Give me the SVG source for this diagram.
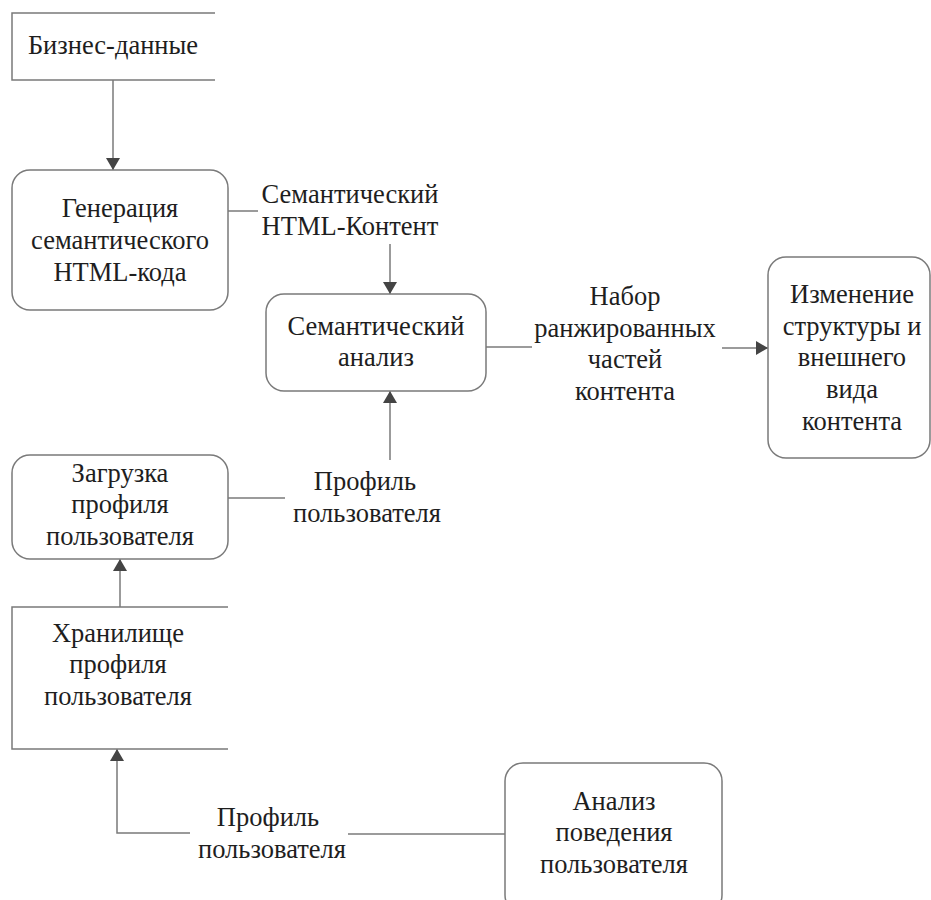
<svg xmlns="http://www.w3.org/2000/svg" width="931" height="900" viewBox="0 0 931 900">
<style>
.box{fill:#fff;stroke:#7a7a7a;stroke-width:1.5}
.ln{fill:none;stroke:#7a7a7a;stroke-width:1.5}
.t{font-family:'Liberation Serif','DejaVu Serif',serif;font-size:26.5px;fill:#1e1e1e;text-anchor:middle}
</style>
<defs>
<marker id="ah" viewBox="0 0 12 16" refX="12" refY="8" markerWidth="12" markerHeight="16" markerUnits="userSpaceOnUse" orient="auto">
<path d="M0,1 L12,8 L0,15 Z" fill="#444"/>
</marker>
</defs>
<rect width="931" height="900" fill="#fff"/>
<g id="connectors">
<line class="ln" x1="113" y1="80" x2="113" y2="170" marker-end="url(#ah)"/>
<line class="ln" x1="228" y1="211" x2="258" y2="211"/>
<line class="ln" x1="390" y1="244" x2="390" y2="294" marker-end="url(#ah)"/>
<line class="ln" x1="486" y1="347" x2="532" y2="347"/>
<line class="ln" x1="722" y1="348" x2="768" y2="348" marker-end="url(#ah)"/>
<line class="ln" x1="390" y1="460" x2="390" y2="391" marker-end="url(#ah)"/>
<line class="ln" x1="228" y1="498" x2="285" y2="498"/>
<line class="ln" x1="120" y1="607" x2="120" y2="559" marker-end="url(#ah)"/>
<polyline class="ln" points="190,833 117,833 117,749" marker-end="url(#ah)"/>
<line class="ln" x1="348" y1="834" x2="505" y2="834"/>
<g id="lbl-html">
<text class="t" x="350" y="203">Семантический</text>
<text class="t" x="350" y="235">HTML-Контент</text>
</g>
<g id="lbl-set">
<text class="t" x="625" y="305">Набор</text>
<text class="t" x="625" y="337">ранжированных</text>
<text class="t" x="625" y="368">частей</text>
<text class="t" x="625" y="400">контента</text>
</g>
<g id="lbl-prof1">
<text class="t" x="365" y="490">Профиль</text>
<text class="t" x="367" y="522">пользователя</text>
</g>
<g id="lbl-prof2">
<text class="t" x="268" y="826">Профиль</text>
<text class="t" x="272" y="858">пользователя</text>
</g>
</g>
<g id="biz">
<polyline class="ln" points="215,13 12,13 12,80 215,80"/>
<text class="t" x="113" y="54">Бизнес-данные</text>
</g>
<g id="gen">
<rect class="box" x="12" y="170" width="216" height="140" rx="18"/>
<text class="t" x="120" y="217">Генерация</text>
<text class="t" x="120" y="249">семантического</text>
<text class="t" x="120" y="281">HTML-кода</text>
</g>
<g id="sem">
<rect class="box" x="266" y="294" width="220" height="97" rx="18"/>
<text class="t" x="376" y="335">Семантический</text>
<text class="t" x="376" y="366">анализ</text>
</g>
<g id="change">
<rect class="box" x="768" y="257" width="162" height="201" rx="18"/>
<text class="t" x="852" y="303">Изменение</text>
<text class="t" x="852" y="335">структуры и</text>
<text class="t" x="852" y="366">внешнего</text>
<text class="t" x="852" y="398">вида</text>
<text class="t" x="852" y="430">контента</text>
</g>
<g id="load">
<rect class="box" x="12" y="455" width="216" height="104" rx="18"/>
<text class="t" x="120" y="482">Загрузка</text>
<text class="t" x="120" y="513">профиля</text>
<text class="t" x="120" y="545">пользователя</text>
</g>
<g id="store">
<polyline class="ln" points="228,607 12,607 12,749 228,749"/>
<text class="t" x="118" y="642">Хранилище</text>
<text class="t" x="118" y="673">профиля</text>
<text class="t" x="118" y="705">пользователя</text>
</g>
<g id="behav">
<rect class="box" x="505" y="763" width="217" height="150" rx="18"/>
<text class="t" x="614" y="810">Анализ</text>
<text class="t" x="614" y="841">поведения</text>
<text class="t" x="614" y="873">пользователя</text>
</g>
</svg>
